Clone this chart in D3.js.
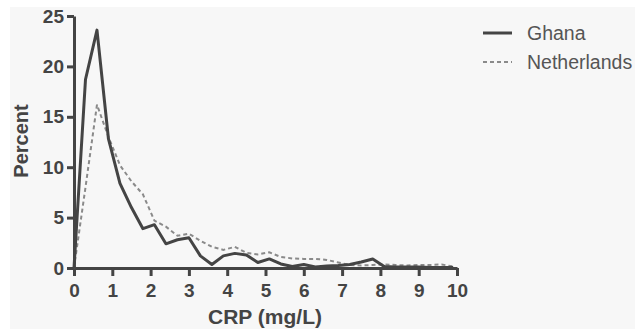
<!DOCTYPE html>
<html>
<head>
<meta charset="utf-8">
<script src="https://cdn.jsdelivr.net/npm/d3@7"></script>
<style>
  body { margin: 0; background: #ffffff; }
  svg text { font-family: "Liberation Sans", Arial, sans-serif; }
</style>
</head>
<body>
<div id="chart"></div>
<script>
// CRP distribution, percent of population per 0.3 mg/L bin
var crp = [0, 0.3, 0.6, 0.9, 1.2, 1.5, 1.8, 2.1, 2.4, 2.7, 3.0, 3.3, 3.6, 3.9, 4.2, 4.5, 4.8,
    5.1, 5.4, 5.7, 6.0, 6.3, 6.6, 6.9, 7.2, 7.5, 7.8, 8.1, 8.4, 8.7, 9.0, 9.3, 9.6, 9.9];
var ghana = [0, 18.7, 23.6, 12.8, 8.4, 6.0, 3.9, 4.3, 2.4, 2.8, 3.0, 1.2, 0.35, 1.2, 1.45, 1.3, 0.55,
    0.9, 0.4, 0.15, 0.35, 0.1, 0.2, 0.25, 0.35, 0.6, 0.9, 0.15, 0.1, 0.1, 0.1, 0.05, 0.05, 0.05];
var netherlands = [0, 8, 16.2, 13, 10.2, 8.6, 7.3, 4.7, 4.1, 3.2, 3.4, 2.7, 2.1, 1.8, 2.1, 1.5, 1.35,
    1.55, 1.1, 0.95, 0.9, 0.9, 0.8, 0.55, 0.3, 0.25, 0.3, 0.35, 0.3, 0.25, 0.3, 0.3, 0.35, 0.15];
var xTicks = [0, 1, 2, 3, 4, 5, 6, 7, 8, 9, 10];
var yTicks = [0, 5, 10, 15, 20, 25];
var seriesNames = ["Ghana", "Netherlands"];

var svgWidth = 637;
var svgHeight = 333;

var svg = d3.select("#chart")
    .append("svg")
    .attr("width", svgWidth)
    .attr("height", svgHeight);

// light grey panel
svg.append("rect")
    .attr("x", 10)
    .attr("y", 7)
    .attr("width", 625)
    .attr("height", 322)
    .attr("fill", "#f7f7f7");

var x = d3.scaleLinear().domain([0, 10]).range([74, 457]);
var y = d3.scaleLinear().domain([0, 25]).range([268, 16]);

var axisColor = "#444444";

var xAxis = svg.append("g")
    .attr("transform", "translate(0," + y(0) + ")")
    .call(d3.axisBottom(x).tickValues(xTicks).tickSize(8).tickSizeOuter(0).tickPadding(8));

var yAxis = svg.append("g")
    .attr("transform", "translate(" + x(0) + ",0)")
    .call(d3.axisLeft(y).tickValues(yTicks).tickSize(7).tickSizeOuter(0).tickPadding(3));

[xAxis, yAxis].forEach(function (g) {
    g.select(".domain").attr("stroke", axisColor).attr("stroke-width", 3);
    g.selectAll(".tick line").attr("stroke", axisColor).attr("stroke-width", 3);
    g.selectAll(".tick text")
        .attr("fill", axisColor)
        .style("font-size", "19px")
        .style("font-weight", "bold");
});

// lines
var line = d3.line()
    .x(function (d) { return x(d[0]); })
    .y(function (d) { return y(d[1]); });

svg.append("path")
    .datum(crp.map(function (c, i) { return [c, netherlands[i]]; }))
    .attr("d", line)
    .attr("fill", "none")
    .attr("stroke", "#8a8a8a")
    .attr("stroke-width", 2)
    .attr("stroke-dasharray", "4,3");

svg.append("path")
    .datum(crp.map(function (c, i) { return [c, ghana[i]]; }))
    .attr("d", line)
    .attr("fill", "none")
    .attr("stroke", "#444444")
    .attr("stroke-width", 3)
    .attr("stroke-linejoin", "round");

// axis titles
svg.append("text")
    .attr("x", 265)
    .attr("y", 324)
    .attr("text-anchor", "middle")
    .attr("fill", axisColor)
    .style("font-size", "21px")
    .style("font-weight", "bold")
    .text("CRP (mg/L)");

svg.append("text")
    .attr("transform", "translate(28,141) rotate(-90)")
    .attr("text-anchor", "middle")
    .attr("fill", axisColor)
    .style("font-size", "20px")
    .style("font-weight", "bold")
    .text("Percent");

// legend
var legend = svg.append("g");
legend.append("line")
    .attr("x1", 483).attr("x2", 512)
    .attr("y1", 33).attr("y2", 33)
    .attr("stroke", "#444444")
    .attr("stroke-width", 3);
legend.append("line")
    .attr("x1", 483).attr("x2", 512)
    .attr("y1", 62).attr("y2", 62)
    .attr("stroke", "#8a8a8a")
    .attr("stroke-width", 2)
    .attr("stroke-dasharray", "4,3");
legend.selectAll("text.lab")
    .data(seriesNames)
    .enter()
    .append("text")
    .attr("class", "lab")
    .attr("x", 527)
    .attr("y", function (d, i) { return 40 + i * 29; })
    .attr("fill", "#555555")
    .style("font-size", "19.5px")
    .text(function (d) { return d; });
</script>
</body>
</html>
